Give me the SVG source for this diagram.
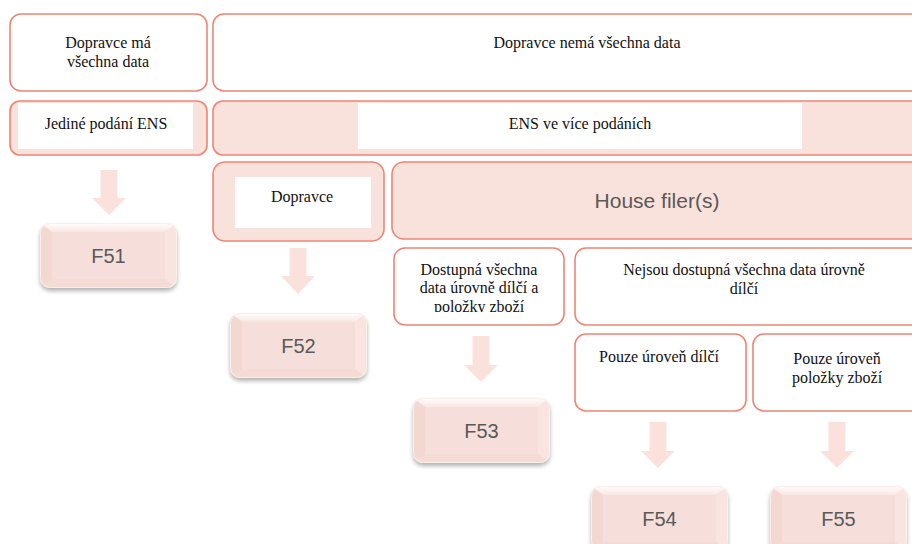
<svg xmlns="http://www.w3.org/2000/svg" xmlns:xlink="http://www.w3.org/1999/xlink" width="912" height="544" viewBox="0 0 912 544">
<style>
.box{fill:#ffffff;stroke:#ee8573;stroke-width:1.6}
.pbox{fill:#f9e1dc;stroke:#ee8573;stroke-width:1.6}
.inner{fill:#ffffff}
.t{font-family:"Liberation Serif","Times New Roman",serif;font-size:16px;fill:#111;text-anchor:middle}
.s{font-family:"Liberation Sans",Arial,sans-serif;fill:#595959;text-anchor:middle}
.arrow{fill:#fbe1db}
</style>
<defs>
<filter id="sh" x="-10%" y="-10%" width="120%" height="130%">
<feDropShadow dx="0" dy="3" stdDeviation="2" flood-color="#000" flood-opacity="0.3"/>
</filter>
<linearGradient id="tg" x1="0" y1="0" x2="0" y2="1">
<stop offset="0" stop-color="#ffffff"/>
<stop offset="1" stop-color="#f9e6e2"/>
</linearGradient>
<clipPath id="bc"><rect x="0" y="0" width="137" height="65" rx="10"/></clipPath>
<g id="btn">
<rect x="0" y="0" width="137" height="65" rx="10" fill="#f5dbd5" filter="url(#sh)"/>
<g clip-path="url(#bc)">
<polygon points="0,0 137,0 125,9 12,9" fill="url(#tg)"/>
<polygon points="0,0 12,9 12,56 0,65" fill="#f3d8d2"/>
<polygon points="137,0 125,9 125,56 137,65" fill="#f9e4e0"/>
<polygon points="0,65 12,56 125,56 137,65" fill="#f4dbd5"/>
<rect x="12" y="9" width="113" height="47" fill="#f6dfda"/>
</g>
<rect x="0.5" y="0.5" width="136" height="64" rx="10" fill="none" stroke="#fbeeeb" stroke-width="1"/>
</g>
<clipPath id="dc"><rect x="390" y="245" width="180" height="67"/></clipPath>
</defs>

<g id="n-ma">
<rect class="box" x="10" y="14" width="197" height="77" rx="11"/>
<text class="t" x="108" y="48">Dopravce má</text>
<text class="t" x="108" y="67">všechna data</text>
</g>

<g id="n-nema">
<rect class="box" x="213" y="14" width="720" height="77" rx="11"/>
<text class="t" x="587" y="48">Dopravce nemá všechna data</text>
</g>

<g id="n-jedine">
<rect class="pbox" x="10" y="101" width="197" height="54" rx="10"/>
<rect class="inner" x="18" y="103" width="175" height="46"/>
<text class="t" x="106" y="129">Jediné podání ENS</text>
</g>

<g id="n-vice">
<rect class="pbox" x="213" y="101" width="720" height="54" rx="10"/>
<rect class="inner" x="358" y="103" width="444" height="46"/>
<text class="t" x="580" y="129">ENS ve více podáních</text>
</g>

<g id="n-dopravce">
<rect class="pbox" x="213" y="162" width="171" height="79" rx="12"/>
<rect class="inner" x="235" y="177" width="136" height="51"/>
<text class="t" x="302" y="202">Dopravce</text>
</g>

<g id="n-house">
<rect class="pbox" x="392" y="162" width="540" height="77" rx="12"/>
<text class="s" x="657" y="208" font-size="21">House filer(s)</text>
</g>

<g id="n-dostupna">
<rect class="box" x="394" y="248" width="170" height="77" rx="11"/>
<g clip-path="url(#dc)">
<text class="t" x="479" y="275">Dostupná všechna</text>
<text class="t" x="479" y="293">data úrovně dílčí a</text>
<text class="t" x="479" y="312">položky zboží</text>
</g>
</g>

<g id="n-nejsou">
<rect class="box" x="575" y="248" width="360" height="77" rx="11"/>
<text class="t" x="744" y="275">Nejsou dostupná všechna data úrovně</text>
<text class="t" x="744" y="294">dílčí</text>
</g>

<g id="n-dilci">
<rect class="box" x="575" y="334" width="171" height="77" rx="11"/>
<text class="t" x="659" y="362">Pouze úroveň dílčí</text>
</g>

<g id="n-polozky">
<rect class="box" x="753" y="334" width="180" height="77" rx="11"/>
<text class="t" x="837" y="364">Pouze úroveň</text>
<text class="t" x="837" y="383">položky zboží</text>
</g>

<g id="connectors">
<polygon class="arrow" points="100.5,170 117.5,170 117.5,198 126,198 109,215 92,198 100.5,198"/>
<polygon class="arrow" points="289.5,248 306.5,248 306.5,276 315,276 298,294 281,276 289.5,276"/>
<polygon class="arrow" points="472.5,336 489.5,336 489.5,365 498,365 481,382 464,365 472.5,365"/>
<polygon class="arrow" points="649.5,422 666.5,422 666.5,451 675,451 658,468 641,451 649.5,451"/>
<polygon class="arrow" points="828.5,422 845.5,422 845.5,451 854,451 837,468 820,451 828.5,451"/>
</g>

<g id="n-f51"><use xlink:href="#btn" x="40" y="223"/><text class="s" x="108.5" y="263" font-size="20">F51</text></g>
<g id="n-f52"><use xlink:href="#btn" x="230" y="313"/><text class="s" x="298.5" y="353" font-size="20">F52</text></g>
<g id="n-f53"><use xlink:href="#btn" x="413" y="398"/><text class="s" x="481.5" y="438" font-size="20">F53</text></g>
<g id="n-f54"><use xlink:href="#btn" x="591" y="486"/><text class="s" x="659.5" y="526" font-size="20">F54</text></g>
<g id="n-f55"><use xlink:href="#btn" x="770" y="486"/><text class="s" x="838.5" y="526" font-size="20">F55</text></g>
</svg>
